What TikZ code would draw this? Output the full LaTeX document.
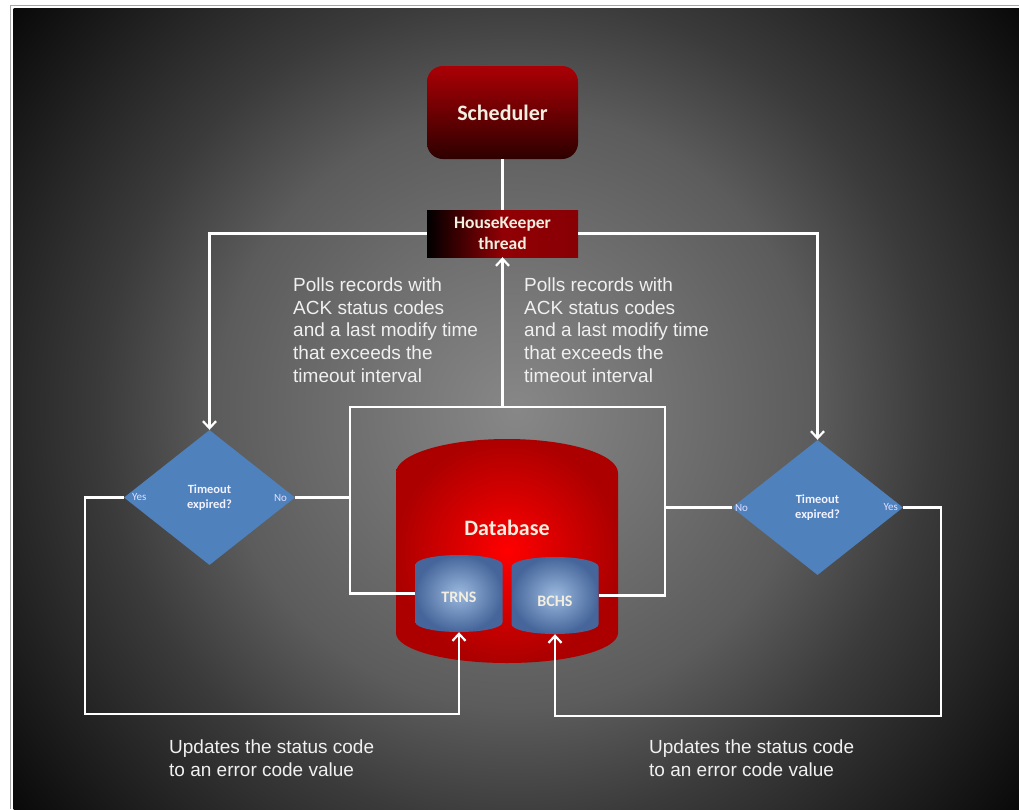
\documentclass[tikz,border=0pt]{standalone}
\usepackage{fontspec}
\setmainfont{Liberation Sans}
\newfontfamily\calibri{Carlito}
\usepackage{tikz}
\usetikzlibrary{arrows.meta,positioning,shapes.geometric}

\definecolor{cream}{RGB}{242,238,224}
\definecolor{ofblue}{RGB}{79,129,189}
\definecolor{wine}{RGB}{170,0,5}
\definecolor{winedark}{RGB}{45,0,0}
\definecolor{dbred}{RGB}{255,0,0}
\definecolor{dbedge}{RGB}{172,0,0}
\definecolor{tblight}{RGB}{155,185,222}
\definecolor{tbdark}{RGB}{70,102,155}
\pgfdeclareradialshading{backdrop}{\pgfpoint{0bp}{0bp}}{%
  color(0bp)=(black!47); color(11.5bp)=(black!64);
  color(16bp)=(black!77); color(25bp)=(black!97); color(50bp)=(black!97)}

\begin{document}
\begin{tikzpicture}[x=1pt,y=-1pt,
  box/.style={rounded corners=16pt,minimum width=151pt,minimum height=93pt,
    top color=wine,bottom color=winedark,text=cream,
    font=\calibri\bfseries\fontsize{22}{26}\selectfont},
  thread/.style={minimum width=151pt,minimum height=47pt,inner sep=0pt,
    left color=black,right color=wine!80!black,middle color=wine!85!black,
    text=cream,align=center,
    font=\calibri\bfseries\fontsize{17.5}{21}\selectfont},
  decision/.style={diamond,fill=ofblue,minimum width=171pt,minimum height=135pt,
    inner sep=0pt,aspect=1.27,align=center,text=white!95!blue,
    font=\calibri\bfseries\fontsize{12.5}{15}\selectfont},
  answer/.style={inner sep=0pt,text=white!88!blue,
    font=\calibri\fontsize{11}{13}\selectfont},
  table/.style={cylinder,shape border rotate=90,aspect=0.55,
    minimum width=87pt,minimum height=77pt,inner sep=0pt,
    anchor=shape center,
    shade,inner color=tblight,outer color=tbdark,text=cream,
    font=\calibri\bfseries\fontsize{16}{19}\selectfont},
  title/.style={text=cream,font=\calibri\bfseries\fontsize{22}{26}\selectfont},
  note/.style={inner sep=0pt,align=left,text=white!94!black,
    font=\fontsize{19}{22.7}\selectfont},
  wire/.style={draw=white,line width=2.2pt},
  >={Straight Barb[length=7pt,width=13pt]}
]
% frame and backdrop
\useasboundingbox (0,0) rectangle (1019,809);
\fill[white] (0,0) rectangle (1019,809);
\draw[black!35,line width=1.2pt] (10.5,809) -- (10.5,5.5) -- (1019,5.5);
\begin{scope}
  \clip (13.5,8.5) rectangle (1019,809);
  \shade[shading=backdrop] (516,409) circle (650pt);
\end{scope}

% blocks
\node[box] (sched) at (502.5,112.5) {Scheduler};
\node[thread] (hk) at (502.5,233.5) {HouseKeeper\\thread};
\node[decision] (chkl) at (209.5,497.5) {Timeout\\expired?};
\node[decision] (chkr) at (817.5,507.5) {Timeout\\expired?};
\node[answer,anchor=west] (chkl-yes) at ([xshift=8pt]chkl.west) {Yes};
\node[answer,anchor=east] (chkl-no) at ([xshift=-8pt]chkl.east) {No};
\node[answer,anchor=west] (chkr-no) at ([xshift=3pt]chkr.west) {No};
\node[answer,anchor=east] (chkr-yes) at ([xshift=-5pt]chkr.east) {Yes};

% database with its two tables
\shade[inner color=dbred,outer color=dbedge]
  (396,473) arc[start angle=180,end angle=360,x radius=111,y radius=34]
  -- (618,633) arc[start angle=0,end angle=180,x radius=111,y radius=30]
  -- cycle;
\node[title] (dbname) at (507,528) {Database};
\node[table] (trns) at (459,593.5) {\raisebox{1.5pt}[\height][\depth]{TRNS}};
\node[table] (bchs) at (555,595.5) {\raisebox{-0.5pt}[\height][\depth]{BCHS}};

% texts
\node[note,anchor=north west] (pollsl) at (293,277.4)
  {Polls records with\\ACK status codes\\and a last modify time\\that exceeds the\\timeout interval};
\node[note,anchor=north west] (pollsr) at (524,277.4)
  {Polls records with\\ACK status codes\\and a last modify time\\that exceeds the\\timeout interval};
\node[note,anchor=north west] (updl) at (169,740)
  {Updates the status code\\to an error code value};
\node[note,anchor=north west] (updr) at (649,740)
  {Updates the status code\\to an error code value};

% connectors
\coordinate (loopnw) at (350,407);
\coordinate (loopne) at (665,407);
\coordinate (yesl) at (85,714);
\coordinate (yesr) at (941,716);
\draw[wire] (sched) -- (hk);
\draw[wire,->] (hk.west) -| (chkl.north);
\draw[wire,->] (hk.east) -| (chkr.north);
\draw[wire] (trns.west |- trns.shape center) -| (loopnw) -- (loopne)
  |- (bchs.east |- bchs.shape center);
\draw[wire,->] (hk.south |- loopnw) -- (hk.south);
\draw[wire] (chkl.east) -- (chkl.east -| loopnw);
\draw[wire] (chkr.west) -- (chkr.west -| loopne);
\draw[wire,->] (chkl.west) -| (yesl) -| (trns.south);
\draw[wire,->] (chkr.east) -| (yesr) -| (bchs.south);
\end{tikzpicture}
\end{document}
